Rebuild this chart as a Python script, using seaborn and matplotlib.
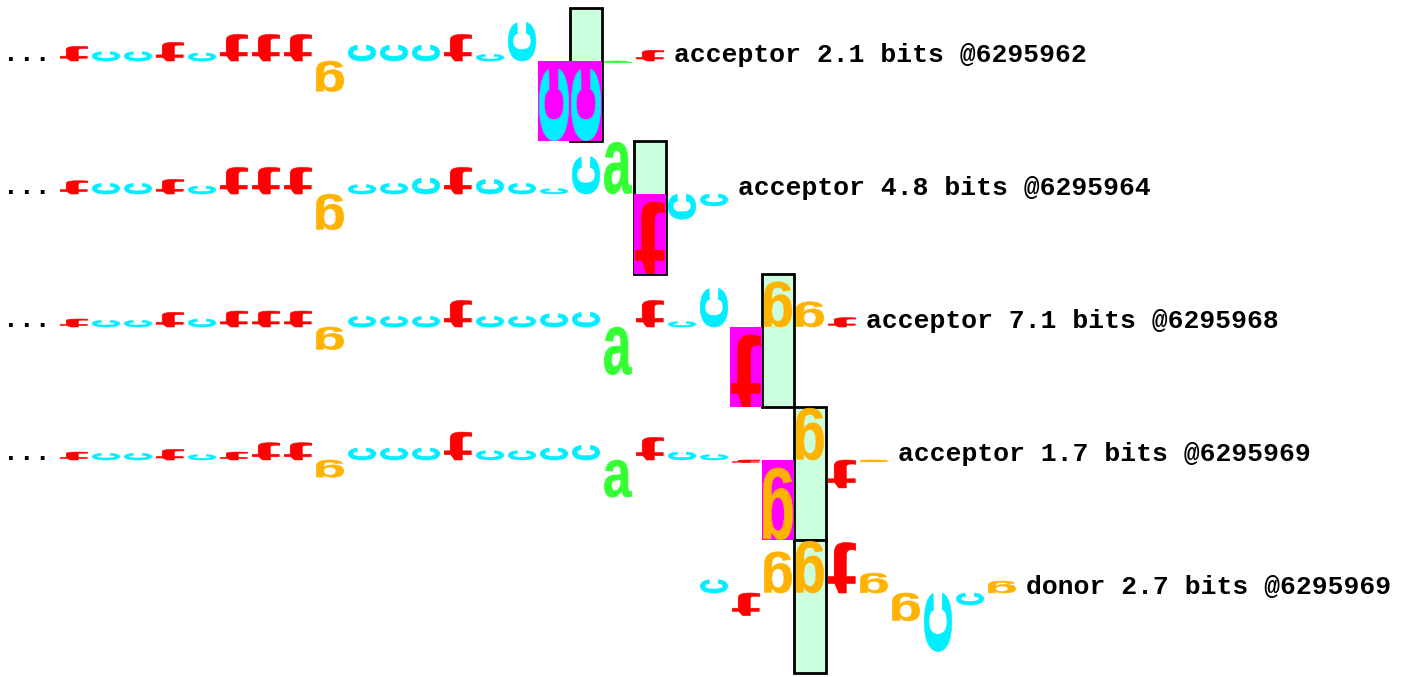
import numpy as np
import matplotlib
matplotlib.use("Agg")
import matplotlib.pyplot as plt
import seaborn as sns
from matplotlib.textpath import TextPath
from matplotlib.patches import PathPatch, Rectangle
from matplotlib.font_manager import FontProperties
from matplotlib.transforms import Affine2D

# ---------------- data ----------------
sequence = list("tcctctttgccctccccatcctggtggccg")   # genomic positions 0..29
site_types = ["acceptor", "acceptor", "acceptor", "acceptor", "donor"]
site_bits = [2.1, 4.8, 7.1, 1.7, 2.7]
site_coords = [6295962, 6295964, 6295968, 6295969, 6295969]
zero_positions = [16, 18, 22, 23, 23]
window_starts = [0, 0, 0, 0, 20]
OFF = np.nan  # below the -3 bit floor (drawn in a magenta box)
row1_bits = [0.55, 0.35, 0.35, 0.7, 0.3, 1.0, 1.0, 1.0, -1.15, 0.6, 0.6, 0.6, 1.0, 0.25, 1.45,
             OFF, OFF, -0.06, 0.4]
row2_bits = [0.5, 0.4, 0.4, 0.55, 0.3, 1.0, 1.0, 1.0, -1.35, 0.35, 0.4, 0.6, 1.0, 0.55, 0.4,
             0.2, 1.4, 1.95, OFF, -0.95, -0.45]
row3_bits = [0.3, 0.25, 0.25, 0.55, 0.3, 0.6, 0.6, 0.6, -0.85, 0.4, 0.4, 0.4, 1.0, 0.4, 0.4,
             0.5, 0.55, -1.8, 1.0, 0.2, 1.45, OFF, 1.7, 0.95, 0.35]
row4_bits = [0.3, 0.25, 0.25, 0.4, 0.2, 0.3, 0.65, 0.65, -0.65, 0.45, 0.45, 0.45, 1.05, 0.35, 0.35,
             0.45, 0.55, -1.4, 0.85, 0.3, 0.2, -0.1, OFF, 1.95, -1.05, -0.07]
row5_bits = [0.5, -0.85, 1.55, 1.95, 1.9, 0.75, -1.05, -2.2, -0.45, 0.45]
rows_bits = [row1_bits, row2_bits, row3_bits, row4_bits, row5_bits]

base_colors = {"a": "#33FF33", "c": "#00EEFF", "g": "#FFB300", "t": "#FF0000"}

# ---------------- drawing ----------------
sns.set_theme(style="white")
plt.rcParams["font.family"] = ["Liberation Mono", "DejaVu Sans Mono"]

PX_PER_BIT = 26.6
PX_PER_POS = 32.0
X0_PX = 58.0
BASE0_PX = 61.0
W, H = 1407, 677

fig = plt.figure(figsize=(W / 100, H / 100), dpi=100)
ax = fig.add_axes([0, 0, 1, 1])
ax.set_xlim(-X0_PX / PX_PER_POS, (W - X0_PX) / PX_PER_POS)
ax.set_ylim(-(H - BASE0_PX) / PX_PER_BIT, BASE0_PX / PX_PER_BIT)
ax.axis("off")

glyph_fp = FontProperties(family="Liberation Sans", weight="bold")
# glyph orientation: (rotation in degrees, vertical mirror)
glyph_orient = {"a": (0, False), "c": (90, False), "g": (180, False), "t": (0, True)}


def draw_letter(ch, x, y_from, y_to, color, z=3, pad=0.07):
    path = TextPath((0, 0), ch, size=1, prop=glyph_fp)
    rot, flip = glyph_orient[ch]
    t0 = Affine2D().rotate_deg(rot)
    if flip:
        t0 = t0.scale(1, -1)
    path = t0.transform_path(path)
    ext = path.get_extents()
    bottom = min(y_from, y_to)
    height = abs(y_to - y_from)
    tr = (Affine2D().translate(-ext.x0, -ext.y0)
          .scale((1 - 2 * pad) / ext.width, height / ext.height)
          .translate(x + pad, bottom))
    ax.add_patch(PathPatch(tr.transform_path(path), facecolor=color,
                           edgecolor=color, linewidth=0.4, zorder=z))


label_fp = dict(fontsize=19, fontweight="bold", color="black",
                family=["Liberation Mono", "DejaVu Sans Mono"])

for k, bits in enumerate(rows_bits):
    base = -5.0 * k
    start = window_starts[k]
    zp = zero_positions[k]
    # zero-position box (-3 .. +2 bits)
    ax.add_patch(Rectangle((zp, base - 3), 1, 5, facecolor="#CCFFDD",
                           edgecolor="black", linewidth=2, zorder=1))
    for i, val in enumerate(bits):
        pos = start + i
        ch = sequence[pos]
        col = base_colors[ch]
        if np.isnan(val):
            ax.add_patch(Rectangle((pos, base - 3), 1, 3, facecolor="#FF00FF",
                                   edgecolor="none", zorder=2))
            draw_letter(ch, pos, base - 0.3, base - 3, col, z=3, pad=0.04)
        else:
            draw_letter(ch, pos, base, base + val, col, z=3)
    end = start + len(bits)
    if start == 0:
        ax.text(-58 / PX_PER_POS + 3 / PX_PER_POS, base, "...", ha="left",
                va="baseline", **label_fp)
    ax.text(end + 0.25, base - 0.02,
            f"{site_types[k]} {site_bits[k]} bits @{site_coords[k]}",
            ha="left", va="baseline", **label_fp)

fig.savefig("out.png", dpi=100)
